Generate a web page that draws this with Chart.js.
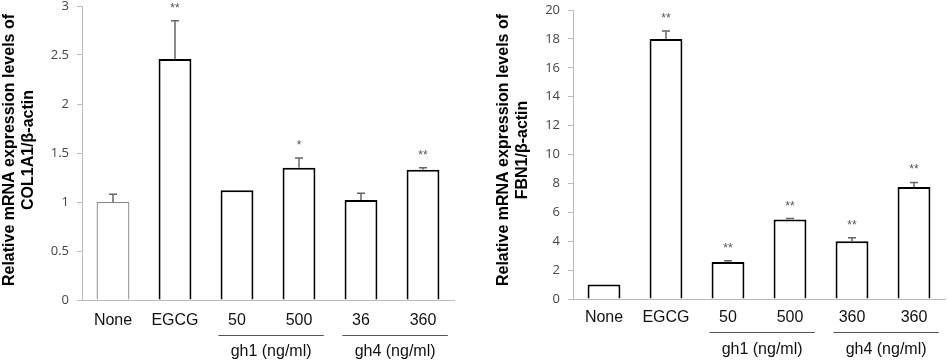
<!DOCTYPE html>
<html><head><meta charset="utf-8">
<script src="https://cdn.jsdelivr.net/npm/chart.js@4/dist/chart.umd.min.js"></script>
<style>
html,body{margin:0;padding:0;background:#fff;}
#wrap{position:relative;width:948px;height:363px;overflow:hidden;}
.box{position:absolute;top:0;width:474px;height:363px;}
#b1{left:0;} #b2{left:474px;}
</style></head><body>
<div id="wrap">
  <div class="box" id="b1"><canvas id="c1"></canvas></div>
  <div class="box" id="b2"><canvas id="c2"></canvas></div>
</div>
<script>
// ---- data ----
const categories1 = ['None', 'EGCG', '50', '500', '36', '360'];
const col1a1Values = [1.0, 2.46, 1.12, 1.35, 1.02, 1.33];
const col1a1Errors = [0.08, 0.39, 0, 0.10, 0.07, 0.02];
const col1a1Marks = ['', '**', '', '*', '', '**'];
const col1a1Title = ['Relative mRNA expression levels of', 'COL1A1/β-actin'];
const yTicks1 = {min: 0, max: 3, step: 0.5};

const categories2 = ['None', 'EGCG', '50', '500', '360', '360'];
const fbn1Values = [1.0, 18.0, 2.56, 5.5, 3.99, 7.75];
const fbn1Errors = [0, 0.55, 0.08, 0.07, 0.25, 0.32];
const fbn1Marks = ['', '**', '**', '**', '**', '**'];
const fbn1Title = ['Relative mRNA expression levels of', 'FBN1/β-actin'];
const yTicks2 = {min: 0, max: 20, step: 2};

const groupLabels = ['gh1 (ng/ml)', 'gh4 (ng/ml)'];
const groupRanges = [[2, 3], [4, 5]];

// ---- drawing helpers ----
const extrasPlugin = {
  id: 'extras',
  afterDatasetsDraw(chart, args, opts) {
    const ctx = chart.ctx;
    const xs = chart.scales.x, ys = chart.scales.y;
    const vals = chart.data.datasets[0].data;
    ctx.save();
    ctx.strokeStyle = '#666';
    ctx.lineWidth = 1.5;
    vals.forEach((v, i) => {
      const e = opts.errors[i];
      if (!e) return;
      const x = xs.getPixelForValue(i);
      const y0 = ys.getPixelForValue(v);
      const y1 = ys.getPixelForValue(v + e);
      ctx.beginPath();
      ctx.moveTo(x, y0); ctx.lineTo(x, y1);
      ctx.moveTo(x - 4, y1); ctx.lineTo(x + 4, y1);
      ctx.stroke();
    });
    ctx.fillStyle = '#555';
    ctx.font = '12px "Liberation Sans", Arial, sans-serif';
    ctx.textAlign = 'center';
    ctx.textBaseline = 'alphabetic';
    vals.forEach((v, i) => {
      const m = opts.marks[i];
      if (!m) return;
      const x = xs.getPixelForValue(i);
      const yt = ys.getPixelForValue(v + (opts.errors[i] || 0));
      ctx.fillText(m, x, yt - 16 + 7);
    });
    ctx.restore();
  },
  afterDraw(chart, args, opts) {
    const ctx = chart.ctx;
    const xs = chart.scales.x;
    const area = chart.chartArea;
    const step = xs.getPixelForValue(1) - xs.getPixelForValue(0);
    ctx.save();
    ctx.strokeStyle = '#555';
    ctx.lineWidth = 1;
    ctx.fillStyle = '#111';
    ctx.font = '16px "Liberation Sans", Arial, sans-serif';
    ctx.textAlign = 'center';
    ctx.textBaseline = 'middle';
    groupRanges.forEach((r, gi) => {
      const xa = xs.getPixelForValue(r[0]) - 0.3 * step;
      const xb = xs.getPixelForValue(r[1]) + 0.4 * step;
      const yl = area.bottom + opts.lineOffset;
      ctx.beginPath();
      ctx.moveTo(xa, yl + 0.5); ctx.lineTo(xb, yl + 0.5);
      ctx.stroke();
      ctx.fillText(groupLabels[gi], (xa + xb) / 2, area.bottom + opts.labelOffset);
    });
    ctx.font = 'bold 16px "Liberation Sans", Arial, sans-serif';
    ctx.fillStyle = '#000';
    opts.title.forEach((t, li) => {
      ctx.save();
      ctx.translate(opts.titleX + li * 19, opts.titleCenterY);
      ctx.rotate(-Math.PI / 2);
      ctx.fillText(t, 0, 0);
      ctx.restore();
    });
    ctx.restore();
  }
};

function fmtTick(v) { return String(Number(v.toFixed(2))); }

function makeChart(id, cats, vals, noneBorder, ticksCfg, yWidth, xHeight, pad, extras, xPad) {
  const borderColors = cats.map((c, i) => i === 0 ? noneBorder.color : '#000');
  const borderWidths = cats.map((c, i) => i === 0 ? noneBorder.width : 2);
  return new Chart(document.getElementById(id), {
    type: 'bar',
    data: {
      labels: cats,
      datasets: [{
        data: vals,
        backgroundColor: '#fff',
        borderColor: borderColors,
        borderWidth: borderWidths,
        borderSkipped: 'bottom',
        categoryPercentage: 1.0,
        barPercentage: 0.53
      }]
    },
    plugins: [extrasPlugin],
    options: {
      responsive: true,
      maintainAspectRatio: false,
      animation: false,
      devicePixelRatio: 1,
      layout: {padding: pad},
      plugins: {
        legend: {display: false},
        tooltip: {enabled: false},
        extras: extras
      },
      scales: {
        x: {
          grid: {display: false, drawTicks: false},
          border: {display: true, color: '#bbb', width: 1},
          ticks: {color: '#111', font: {family: '"Liberation Sans", Arial, sans-serif', size: 16}, padding: xPad, maxRotation: 0, autoSkip: false},
          afterFit: s => { s.height = xHeight; s.paddingLeft = 0; s.paddingRight = 0; }
        },
        y: {
          min: ticksCfg.min, max: ticksCfg.max,
          ticks: {stepSize: ticksCfg.step, color: '#444', font: {family: '"Open Sans", sans-serif', size: 13}, padding: 8, callback: v => fmtTick(v)},
          grid: {drawOnChartArea: false, tickLength: 5, color: '#bbb'},
          border: {display: true, color: '#bbb', width: 1},
          afterFit: s => { s.width = yWidth; s.paddingTop = 0; s.paddingBottom = 0; }
        }
      }
    }
  });
}

makeChart('c1', categories1, col1a1Values, {color: '#888', width: 1.3}, yTicks1, 82, 63,
  {top: 6, right: 20, left: 0, bottom: 0},
  {errors: col1a1Errors, marks: col1a1Marks, title: col1a1Title, titleX: 10, titleCenterY: 150, lineOffset: 35, labelOffset: 52}, 11);

makeChart('c2', categories2, fbn1Values, {color: '#000', width: 2}, yTicks2, 99, 64,
  {top: 10, right: 3, left: 0, bottom: 0},
  {errors: fbn1Errors, marks: fbn1Marks, title: fbn1Title, titleX: 30, titleCenterY: 150, lineOffset: 33, labelOffset: 51}, 9);
</script>
</body></html>
